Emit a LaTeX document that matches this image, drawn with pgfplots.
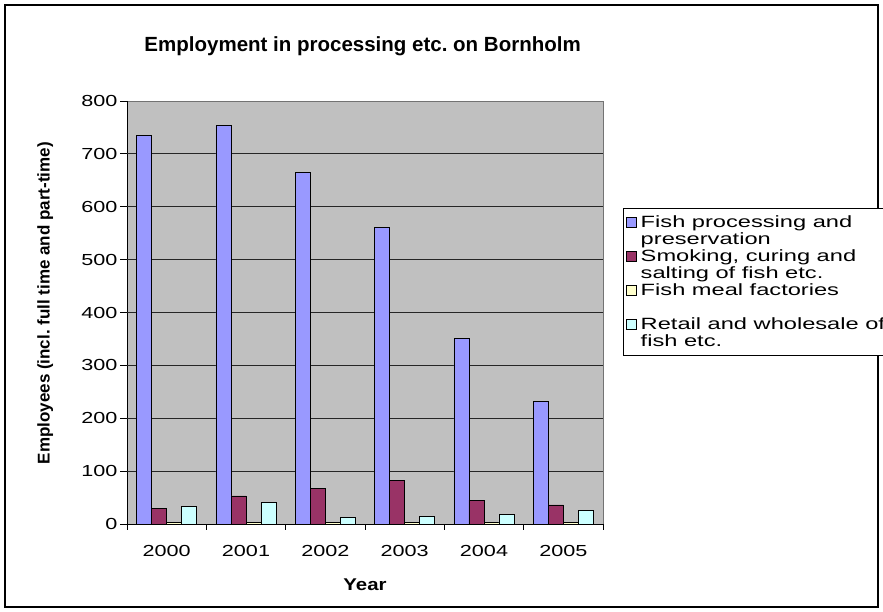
\documentclass[border=0pt]{standalone}
\usepackage{fontspec}
\setmainfont{Liberation Sans}
\newfontfamily\wide[FakeStretch=1.35]{Liberation Sans}
\newfontfamily\wider[FakeStretch=1.45]{Liberation Sans}
\newfontfamily\boldwide[FakeStretch=1.2]{Liberation Sans Bold}
\frenchspacing
\usepackage{pgfplots}
\pgfplotsset{compat=1.18}
\definecolor{cA}{HTML}{9999FF}
\definecolor{cB}{HTML}{993366}
\definecolor{cC}{HTML}{FFFFCC}
\definecolor{cD}{HTML}{CCFFFF}
\definecolor{bg}{HTML}{C0C0C0}
\pgfplotsset{mylegend/.style={legend image code/.code={\draw[##1,line width=0.8pt] (0pt,0pt) rectangle (10pt,10pt);}}}
\begin{document}
\begin{tikzpicture}
\useasboundingbox (0pt,0pt) rectangle (883pt,612pt);
\clip (0pt,0pt) rectangle (883pt,612pt);
\fill[white] (0pt,0pt) rectangle (883pt,612pt);
\draw[line width=1.2pt] (5pt,5pt) rectangle (878pt,607pt);
\begin{axis}[
  at={(127pt,88pt)}, anchor=south west,
  scale only axis, width=476pt, height=423pt,
  ybar=0pt, bar width=15pt,
  xmin=-0.5, xmax=5.5, ymin=0, ymax=800,
  axis x line*=bottom, axis y line*=left,
  axis line style={black, line width=0.9pt},
  axis background/.style={fill=bg, draw=black!55, line width=0.9pt},
  xtick={0,...,5}, xticklabels={2000,2001,2002,2003,2004,2005},
  minor xtick={-0.5,0.5,...,5.5},
  every major x tick/.append style={draw=none},
  every minor x tick/.append style={black, line width=0.8pt},
  minor tick length=6pt,
  ytick={0,100,...,800},
  every major y tick/.append style={black, line width=0.8pt},
  major tick length=7pt,
  xtick align=outside, ytick align=outside,
  extra y ticks={100,200,...,700}, extra y tick labels={},
  extra y tick style={grid=major, major tick length=0pt},
  major grid style={black!85, line width=0.8pt},
  /pgf/number format/assume math mode=true,
  /pgf/number format/1000 sep={},
  ticklabel style={font=\wide\fontsize{16}{16}\selectfont},
  yticklabel style={xshift=1pt},
  xticklabel style={yshift=-11pt},
  title={Employment in processing etc. on Bornholm},
  title style={at={(0.495,1.116)}, anchor=center, font=\bfseries\fontsize{20.5}{24}\selectfont},
  xlabel={Year},
  xlabel style={at={(0.5,-0.143)}, anchor=center, font=\boldwide\fontsize{17}{19}\selectfont},
  ylabel={Employees (incl. full time and part-time)},
  ylabel style={at={(-0.172,0.522)}, anchor=center, rotate=0, font=\bfseries\fontsize{17}{19}\selectfont},
  legend style={at={(1.042,0.747)}, anchor=north west,
    font=\wider\fontsize{16.3}{16.7}\selectfont, draw=black, line width=0.9pt, fill=white,
    inner xsep=3pt, inner ysep=5.7pt, row sep=0pt, column sep=1.5pt,
    cells={anchor=base west, inner ysep=0pt, text height=11.5pt, text depth=4.5pt}},
]
\addplot[fill=cA, draw=black, line width=0.9pt, mylegend] coordinates {(0,735) (1,754) (2,665) (3,560) (4,350) (5,232)};
\addlegendentry{Fish processing and}
\addlegendimage{empty legend}
\addlegendentry{preservation}
\addplot[fill=cB, draw=black, line width=0.9pt, mylegend] coordinates {(0,29) (1,53) (2,68) (3,83) (4,45) (5,36)};
\addlegendentry{Smoking, curing and}
\addlegendimage{empty legend}
\addlegendentry{salting of fish etc.}
\addplot[fill=cC, draw=black, line width=0.9pt, mylegend] coordinates {(0,3) (1,3) (2,3) (3,3) (4,3) (5,3)};
\addlegendentry{Fish meal factories}
\addlegendimage{empty legend}
\addlegendentry{\mbox{}}
\addplot[fill=cD, draw=black, line width=0.9pt, mylegend] coordinates {(0,34) (1,40) (2,13) (3,15) (4,18) (5,26)};
\addlegendentry{Retail and wholesale of}
\addlegendimage{empty legend}
\addlegendentry{fish etc.}
\end{axis}
\end{tikzpicture}
\end{document}
